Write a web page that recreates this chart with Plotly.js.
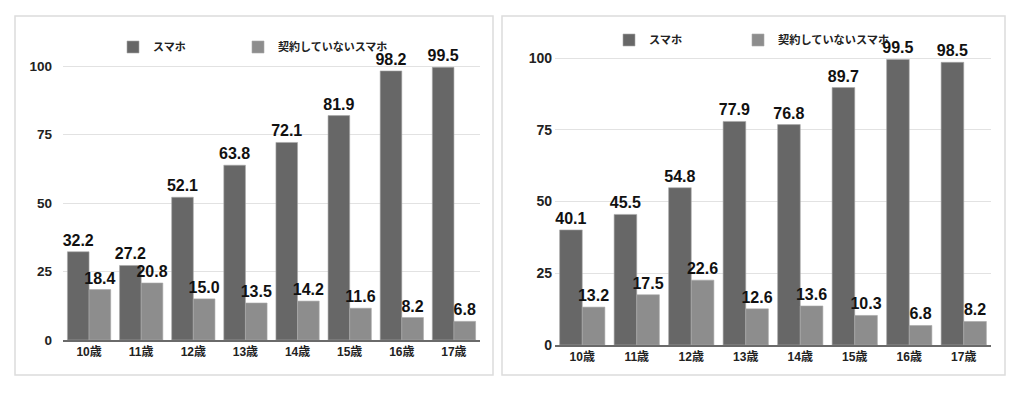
<!DOCTYPE html>
<html>
<head>
<meta charset="utf-8">
<script src="https://cdn.plot.ly/plotly-3.0.1.min.js"></script>
<style>
html,body{margin:0;padding:0;background:#fff;}
#chart{width:1024px;height:394px;}
</style>
</head>
<body>
<div id="chart"></div>
<script>
const categories = ['10歳','11歳','12歳','13歳','14歳','15歳','16歳','17歳'];
const seriesNames = ['スマホ','契約していないスマホ'];
const leftSmartphone = [32.2,27.2,52.1,63.8,72.1,81.9,98.2,99.5];
const leftNoContract = [18.4,20.8,15.0,13.5,14.2,11.6,8.2,6.8];
const rightSmartphone = [40.1,45.5,54.8,77.9,76.8,89.7,99.5,98.5];
const rightNoContract = [13.2,17.5,22.6,12.6,13.6,10.3,6.8,8.2];
const yTicks = [0,25,50,75,100];

const FONT = 'Arial, "Liberation Sans", "Noto Sans CJK JP", sans-serif';
const DARK = '#676767';
const LIGHT = '#8d8d8d';

function barTrace(name, y, color, xa, ya, legend) {
  return {
    type: 'bar', name: name, x: categories, y: y,
    xaxis: xa, yaxis: ya, legend: legend,
    marker: {color: color, line: {color: '#a8a8a8', width: 0.6}},
    texttemplate: '%{y:.1f}', textposition: 'outside',
    textfont: {family: FONT, size: 16, color: '#111', weight: 'bold'},
    constraintext: 'none', cliponaxis: false,
    hoverinfo: 'skip'
  };
}

const data = [
  barTrace(seriesNames[0], leftSmartphone, DARK, 'x', 'y', 'legend'),
  barTrace(seriesNames[1], leftNoContract, LIGHT, 'x', 'y', 'legend2'),
  barTrace(seriesNames[0], rightSmartphone, DARK, 'x2', 'y2', 'legend3'),
  barTrace(seriesNames[1], rightNoContract, LIGHT, 'x2', 'y2', 'legend4')
];

const W = 1024, H = 394;
function yDomain(zeroPx, hundredPx, maxVal) {
  const per = (zeroPx - hundredPx) / 100;
  const topPx = zeroPx - maxVal * per;
  return [(H - zeroPx) / H, (H - topPx) / H];
}
const YMAX = 104;

const xCommon = {
  type: 'category', showgrid: false, zeroline: false,
  showline: true, linecolor: '#6a6a6a', linewidth: 1.5,
  ticks: '', tickfont: {family: FONT, size: 12, color: '#222', weight: 'bold'},
  fixedrange: true
};
const yCommon = {
  range: [0, YMAX], tickvals: yTicks, showgrid: true, gridcolor: '#e2e2e2', gridwidth: 1,
  zeroline: false, showline: false, ticks: '',
  fixedrange: true
};

function legendAt(xPx, yPx, size) {
  return {
    orientation: 'h', xanchor: 'left', yanchor: 'middle',
    x: xPx / W, y: 1 - yPx / H,
    bgcolor: 'rgba(0,0,0,0)',
    font: {family: FONT, size: size, color: '#222', weight: 'bold'}
  };
}

const layout = {
  width: W, height: H,
  margin: {l: 0, r: 0, t: 0, b: 0},
  paper_bgcolor: '#fff', plot_bgcolor: 'rgba(0,0,0,0)',
  font: {family: FONT},
  barmode: 'group', bargap: 0.17, bargroupgap: 0,
  showlegend: true,
  xaxis: Object.assign({}, xCommon, {domain: [63/W, 480/W], anchor: 'y'}),
  yaxis: Object.assign({}, yCommon, {domain: yDomain(340, 66, YMAX), anchor: 'x', ticklabelstandoff: 10,
    tickfont: {family: FONT, size: 13.5, color: '#222', weight: 'bold'}}),
  xaxis2: Object.assign({}, xCommon, {domain: [555/W, 991/W], anchor: 'y2'}),
  yaxis2: Object.assign({}, yCommon, {domain: yDomain(345, 58, YMAX), anchor: 'x2', ticklabelstandoff: 2,
    tickfont: {family: FONT, size: 14, color: '#222', weight: 'bold'}}),
  legend: legendAt(113, 47, 11),
  legend2: legendAt(238, 47, 11),
  legend3: legendAt(609, 40, 11.2),
  legend4: legendAt(738, 40, 11.2),
  shapes: [
    {type: 'rect', xref: 'paper', yref: 'paper', x0: 15/W, x1: 493/W, y0: 1 - 375/H, y1: 1 - 16/H,
     line: {color: '#dcdcdc', width: 1.5}, fillcolor: 'rgba(0,0,0,0)', layer: 'below'},
    {type: 'rect', xref: 'paper', yref: 'paper', x0: 502/W, x1: 1005/W, y0: 1 - 375/H, y1: 1 - 16/H,
     line: {color: '#dcdcdc', width: 1.5}, fillcolor: 'rgba(0,0,0,0)', layer: 'below'}
  ]
};

Plotly.newPlot('chart', data, layout, {staticPlot: true, displayModeBar: false});
</script>
</body>
</html>
